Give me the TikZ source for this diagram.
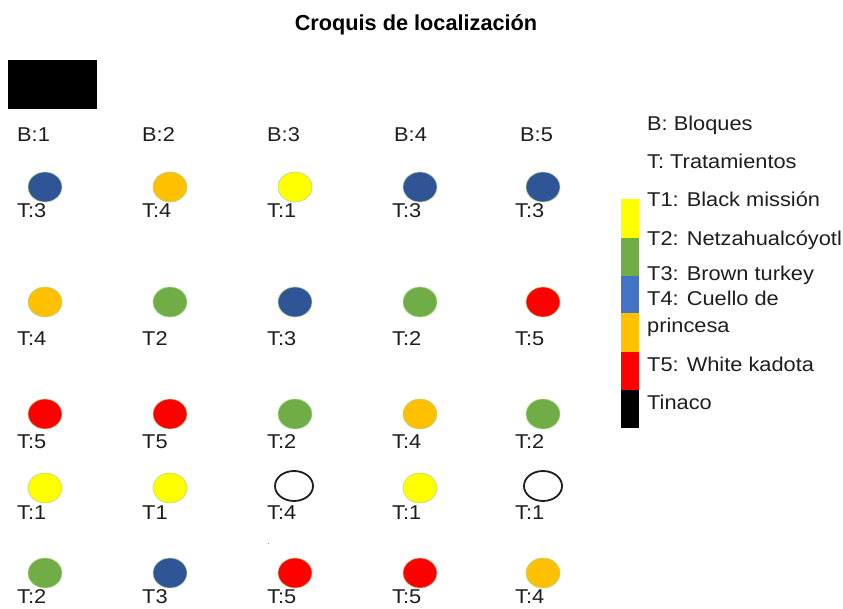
\documentclass[tikz,border=0pt]{standalone}
\usepackage{fontspec}
\setmainfont{Liberation Sans}[FakeStretch=1.09]
\newfontfamily\titlefont{Liberation Sans}
\usetikzlibrary{shapes.geometric}
\definecolor{cblue}{RGB}{47,85,151}
\definecolor{lblue}{RGB}{68,114,196}
\definecolor{corange}{RGB}{255,192,0}
\definecolor{cyellow}{RGB}{255,255,0}
\definecolor{cgreen}{RGB}{112,173,71}
\definecolor{cred}{RGB}{255,0,0}
\definecolor{rim}{RGB}{180,215,150}
\definecolor{ink}{RGB}{30,30,30}
\tikzset{
  plant/.style={ellipse, draw=rim, line width=0.6pt, minimum width=34pt, minimum height=30pt, inner sep=0pt},
  emptyplant/.style={ellipse, draw=ink, line width=1.8pt, minimum width=38pt, minimum height=30pt, inner sep=0pt, fill=none},
  lbl/.style={anchor=base west, inner sep=0pt, text=ink, font=\fontsize{20}{20}\selectfont},
  title/.style={anchor=base, inner sep=0pt, text=black, font=\titlefont\bfseries\fontsize{21.7}{22}\selectfont},
}
\begin{document}
\begin{tikzpicture}[x=1pt,y=-1pt]
\useasboundingbox (0,0) rectangle (843,609);
\fill[white] (0,0) rectangle (843,609);
% title
\node[title] (title) at (416,31) {Croquis de localización};
% tinaco
\node[fill=black, minimum width=89pt, minimum height=49pt, inner sep=0pt, anchor=north west] (tinaco) at (8,60) {};
% block labels
\foreach \i/\x in {1/17,2/142,3/267,4/394,5/520}{
  \node[lbl] (b\i) at (\x,142) {B:\i};
}
% circles and treatment labels
\foreach \r/\yc/\yl/\items in {
  1/187/218/{45/cblue/T:3,170/corange/T:4,295/cyellow/T:1,420/cblue/T:3,543/cblue/T:3},
  2/302/345/{45/corange/T:4,170/cgreen/T2,295/cblue/T:3,420/cgreen/T:2,543/cred/T:5},
  3/414/448/{45/cred/T:5,170/cred/T5,295/cgreen/T:2,420/corange/T:4,543/cgreen/T:2},
  4/488/519/{45/cyellow/T:1,170/cyellow/T1,420/cyellow/T:1},
  5/573/603/{45/cgreen/T:2,170/cblue/T3,295/cred/T:5,420/cred/T:5,543/corange/T:4}}{
  \foreach \x/\c/\t [count=\k] in \items {
    \node[plant, fill=\c] (p\r-\k) at (\x,\yc) {};
    \node[lbl] (t\r-\k) at ({\x-28},\yl) {\t};
  }
}
% empty positions in row 4
\node[emptyplant] (e4-3) at (294,486) {};
\node[lbl] (te4-3) at (267,519) {T:4};
\node[emptyplant] (e4-5) at (543,486) {};
\node[lbl] (te4-5) at (515,519) {T:1};
% stray dot
\node[anchor=base west, inner sep=0pt, text=gray, font=\fontsize{9}{9}\selectfont] (dot) at (267,544) {.};
% legend bar
\fill[cyellow] (621,199) rectangle (639,238);
\fill[cgreen] (621,238) rectangle (639,276);
\fill[lblue] (621,276) rectangle (639,313);
\fill[corange] (621,313) rectangle (639,352);
\fill[cred] (621,352) rectangle (639,390);
\fill[black] (621,390) rectangle (639,428);
% legend text
\node[lbl] (l1) at (647,131) {B: Bloques};
\node[lbl] (l2) at (647,169) {T: Tratamientos};
\node[lbl] (l3) at (647,207) {T1: Black missión};
\node[lbl] (l4) at (647,246) {T2: Netzahualcóyotl};
\node[lbl] (l5) at (647,281) {T3: Brown turkey};
\node[lbl] (l6) at (647,306) {T4: Cuello de};
\node[lbl] (l7) at (647,333) {princesa};
\node[lbl] (l8) at (647,371) {T5: White kadota};
\node[lbl] (l9) at (647,409) {Tinaco};
\end{tikzpicture}
\end{document}
